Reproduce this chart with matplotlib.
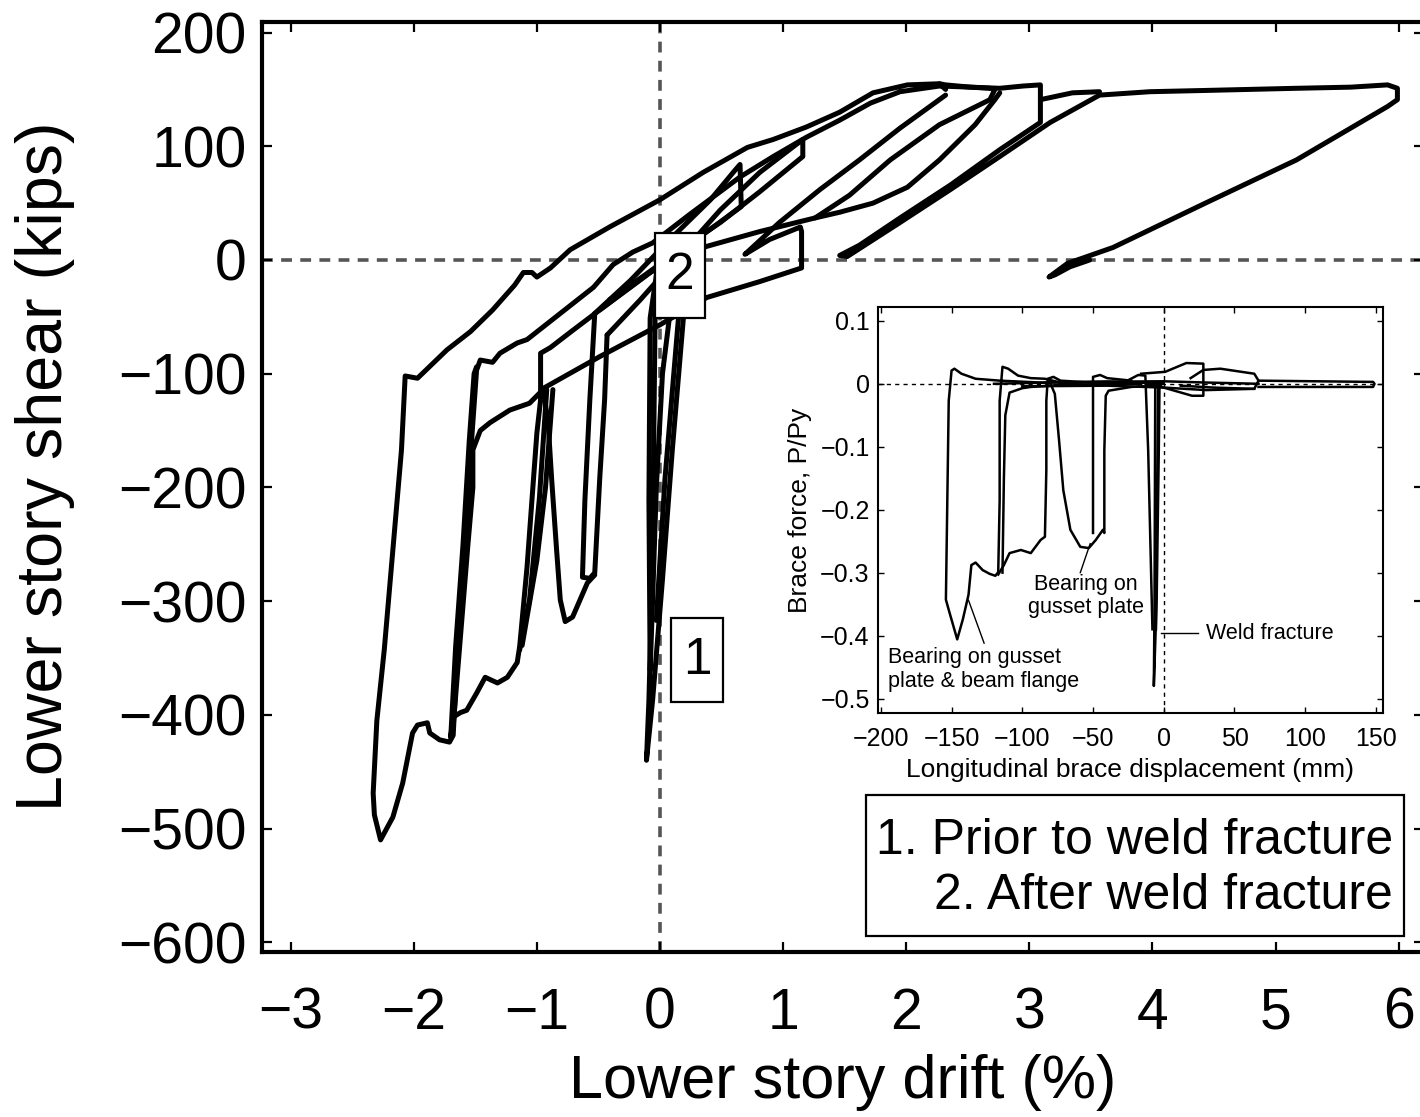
import numpy as np
import matplotlib
matplotlib.use("Agg")
import matplotlib.pyplot as plt
from matplotlib.patches import Rectangle
from matplotlib.ticker import FuncFormatter

plt.rcParams['font.family'] = ['Liberation Sans', 'DejaVu Sans']

# ---- main plot: lower story drift (%) vs lower story shear (kips), traced branches
outer = np.array([
    (2.32, 150), (2.27, 155), (2.01, 154), (1.73, 147), (1.46, 130), (1.19, 117),
    (0.92, 106), (0.71, 99), (0.35, 77), (0.0, 53), (-0.41, 29), (-0.73, 9),
    (-0.89, -7), (-1.00, -15), (-1.04, -11), (-1.11, -11), (-1.18, -22), (-1.36, -44),
    (-1.54, -63), (-1.73, -79), (-1.97, -104), (-2.07, -102), (-2.10, -167),
    (-2.17, -255), (-2.24, -343), (-2.30, -405), (-2.33, -469), (-2.32, -488),
    (-2.27, -510), (-2.17, -490), (-2.09, -460), (-2.01, -416), (-1.97, -409),
    (-1.89, -407), (-1.87, -416), (-1.79, -422), (-1.71, -424), (-1.68, -418),
    (-1.64, -334), (-1.58, -246), (-1.53, -158), (-1.49, -97), (-1.46, -88),
    (-1.36, -90), (-1.30, -82), (-1.16, -73), (-1.08, -70), (-0.81, -47),
    (-0.54, -24), (-0.38, -4), (-0.22, 7), (-0.06, 15), (0.24, 40), (0.65, 73),
    (0.92, 91), (1.19, 108), (1.46, 123), (1.71, 138), (1.95, 148), (2.27, 153),
    (2.52, 152), (2.68, 151), (2.72, 150), (2.68, 141), (2.27, 119), (1.87, 88),
    (1.54, 57), (1.26, 37),
])

step = np.array([
    (-0.97, -123), (-1.00, -152), (-1.03, -196), (-1.08, -270), (-1.14, -340),
    (-1.16, -354), (-1.24, -367), (-1.32, -372), (-1.42, -367), (-1.49, -381),
    (-1.57, -396), (-1.62, -398), (-1.68, -402), (-1.70, -420), (-1.66, -340),
    (-1.60, -250), (-1.55, -160), (-1.51, -100), (-1.49, -94),
])

knee_dip = np.array([
    (-1.68, -410), (-1.62, -330), (-1.56, -250), (-1.52, -200), (-1.52, -167),
    (-1.46, -150), (-1.38, -143), (-1.22, -132), (-1.06, -126), (-0.95, -114),
    (-0.91, -141), (-0.88, -193), (-0.84, -255), (-0.81, -299), (-0.77, -318),
    (-0.71, -314), (-0.65, -299), (-0.59, -284), (-0.53, -277),
])

vert05 = np.array([
    (-0.53, -47), (-0.57, -123), (-0.61, -211), (-0.63, -279), (-0.57, -280),
    (-0.53, -275), (-0.49, -193), (-0.45, -123), (-0.43, -66),
])

cycle_p1 = np.array([
    (-0.53, -47), (-0.24, -18), (0.08, 18), (0.41, 53), (0.61, 79), (0.65, 84),
    (0.66, 47), (0.37, 24), (0.08, 2), (-0.24, -24), (-0.49, -44),
])

cycle_p2 = np.array([
    (-0.43, -66), (-0.16, -35), (0.16, 4), (0.49, 44), (0.81, 77), (1.16, 106),
    (1.16, 91), (0.81, 60), (0.49, 33), (0.16, 9), (-0.12, -13), (-0.41, -35),
])

drop09a = np.array([(-0.92, -114), (-0.98, -210), (-1.06, -299), (-1.14, -343)])
drop09b = np.array([(-0.87, -114), (-0.93, -200), (-1.00, -264), (-1.12, -339)])

unload_p3 = np.array([
    (2.32, 145), (1.95, 116), (1.62, 88), (1.30, 62), (0.97, 33), (0.73, 9),
    (0.69, 5), (0.89, 18), (1.14, 29), (1.15, 25), (1.15, -7), (0.81, -19),
    (0.38, -33), (0.0, -57), (-0.49, -85), (-0.95, -113),
])

reload_p4 = np.array([
    (-0.97, -123), (-0.97, -82), (-0.89, -77), (-0.71, -62), (-0.49, -44),
    (-0.27, -26), (-0.08, -11), (0.16, 3), (0.38, 12), (0.81, 25), (1.26, 37),
    (1.46, 42), (1.73, 50), (2.01, 64), (2.27, 88), (2.56, 119), (2.72, 141),
    (2.76, 147),
])

large_cycles = np.array([
    (2.27, 155), (2.32, 154), (2.52, 152), (2.76, 151), (2.95, 153), (3.09, 154),
    (3.09, 121), (2.76, 97), (2.36, 66), (1.95, 37), (1.62, 13), (1.46, 4),
    (1.52, 3), (1.95, 33), (2.36, 62), (2.76, 91), (3.17, 121), (3.57, 145),
    (3.98, 148), (4.39, 149), (5.17, 151), (5.61, 152), (5.91, 154), (5.99, 151),
    (5.99, 141), (5.91, 135), (5.17, 88), (4.43, 50), (3.68, 11), (3.31, -3),
    (3.16, -15), (3.21, -13), (3.33, -6), (3.49, 0),
])
arch_p6 = np.array([(3.09, 141), (3.35, 147), (3.57, 148)])

prior_a = np.array([
    (0.32, 18), (0.19, -51), (0.10, -167), (0.02, -281), (-0.06, -387),
    (-0.11, -440), (-0.09, -387), (-0.06, -264), (-0.05, -150), (-0.04, -51), (0.0, 9),
])
prior_b = np.array([
    (0.0, 9), (-0.08, -51), (-0.09, -211), (-0.08, -361), (-0.06, -299),
    (-0.03, -200), (0.02, -100), (0.10, -30), (0.25, 20),
])
prior_c = np.array([(0.30, 10), (0.15, -51), (0.04, -193), (-0.03, -317)])

main_curves = [outer, step, knee_dip, vert05, cycle_p1, cycle_p2, drop09a, drop09b,
               unload_p3, reload_p4, large_cycles, arch_p6, prior_a, prior_b, prior_c]

main_xticks = [-3, -2, -1, 0, 1, 2, 3, 4, 5, 6]
main_yticks = [200, 100, 0, -100, -200, -300, -400, -500, -600]

# ---- inset: longitudinal brace displacement (mm) vs brace force P/Py
brace_a = np.array([
    (0, 0.002), (-40, 0.003), (-87, 0.002), (-116, 0.005), (-133, 0.008),
    (-143, 0.016), (-148, 0.024), (-150, 0.021), (-152, -0.027), (-153, -0.185),
    (-154, -0.343), (-151, -0.367), (-146, -0.406), (-142, -0.374), (-138, -0.335),
    (-136, -0.288), (-133, -0.284), (-128, -0.296), (-123, -0.302), (-119, -0.305),
    (-117, -0.299), (-116, -0.185), (-116, -0.027), (-114, 0.027), (-110, 0.024),
    (-103, 0.013), (-94, 0.009), (-84, 0.008), (-73, 0.002), (-40, 0.003), (0, 0.002),
])
brace_step = np.array([
    (-117, -0.303), (-113, -0.288), (-109, -0.269), (-101, -0.264), (-94, -0.269),
    (-87, -0.248), (-84, -0.243), (-83, -0.137), (-83, -0.027), (-82, 0.008),
    (-78, 0.011), (-73, 0.005), (-52, 0.002), (-23, 0.002),
])
brace_knee = np.array([
    (-114, -0.300), (-113, -0.15), (-112, -0.05), (-109, -0.014), (-100, -0.007),
    (-94, -0.005), (-73, -0.002), (-16, 0.0),
])
brace_dip = np.array([
    (-80, 0.0), (-77, -0.016), (-74, -0.09), (-71, -0.169), (-66, -0.232),
    (-59, -0.259), (-53, -0.261), (-48, -0.248), (-43, -0.232), (-42, -0.237),
    (-42, -0.106), (-41, -0.019), (-39, -0.011), (-23, -0.005), (-2, -0.002),
])
brace_50 = np.array([(-50, -0.237), (-50, -0.106), (-50, 0.011), (-45, 0.014),
                     (-40, 0.009), (-23, 0.005)])
brace_10 = np.array([(-30, 0.0), (-18, 0.014), (-13, 0.013), (-11, -0.106), (-8, -0.390)])
brace_weld = np.array([(-6, -0.002), (-6.5, -0.343), (-7, -0.480), (-5, -0.343),
                       (-3.5, -0.106), (-3, -0.002)])
brace_weld2 = np.array([(-4, 0.0), (-5.5, -0.39)])
brace_lens1 = np.array([(-16, 0.016), (1, 0.019), (16, 0.033), (28, 0.032), (28, -0.019),
                        (20, -0.019), (3, -0.008), (-13, 0.002)])
brace_lens2 = np.array([(19, 0.009), (28, 0.022), (40, 0.024), (64, 0.016), (67, 0.005),
                        (64, -0.008), (35, -0.006), (12, -0.003)])
brace_tail = np.array([(67, 0.005), (148, 0.003), (149, 0.0), (148, -0.005), (67, -0.005)])
brace_flat = np.array([(-120, 0.0), (-60, 0.003), (0, 0.004), (30, 0.002), (67, 0.0)])
brace_flat2 = np.array([(-100, -0.004), (-40, -0.003), (0, -0.006), (30, -0.01), (64, -0.008)])

inset_curves = [brace_a, brace_step, brace_knee, brace_dip, brace_50, brace_10, brace_weld,
                brace_weld2, brace_lens1, brace_lens2, brace_tail, brace_flat, brace_flat2]

inset_xticks = [-200, -150, -100, -50, 0, 50, 100, 150]
inset_yticks = [0.1, 0, -0.1, -0.2, -0.3, -0.4, -0.5]


def fmt(v, pos=None):
    s = f"{v:g}"
    return "0" if s in ("0", "-0") else s.replace("-", "\u2212")


fig = plt.figure(figsize=(14.2, 11.17), dpi=100)
ax = fig.add_axes([262 / 1420, 165 / 1117, 1162 / 1420, 930 / 1117])

ax.axhline(0, color='#555555', lw=2.6, dashes=(3, 2.3), zorder=1)
ax.axvline(0, color='#555555', lw=2.6, dashes=(3, 2.3), zorder=1)
for c in main_curves:
    ax.plot(c[:, 0], c[:, 1], color='black', lw=3.6, solid_joinstyle='round',
            solid_capstyle='round', zorder=2)

ax.set_xlim(-3.233, 6.206)
ax.set_ylim(-608.6, 209.3)
ax.set_xticks(main_xticks)
ax.set_yticks(main_yticks)
ax.xaxis.set_major_formatter(FuncFormatter(fmt))
ax.yaxis.set_major_formatter(FuncFormatter(fmt))
ax.tick_params(direction='in', top=True, right=True, length=7, width=1.6, labelsize=41)
ax.tick_params(axis='x', pad=25)
ax.tick_params(axis='y', pad=11)
for sp in ax.spines.values():
    sp.set_linewidth(3)
ax.set_xlabel('Lower story drift (%)', fontsize=44)
ax.set_ylabel('Lower story shear (kips)', fontsize=46.5)
ax.xaxis.set_label_coords(0.5, -0.11)
ax.yaxis.set_label_coords(-0.161, 0.522)

# numbered markers: white boxes over the curves
for x0, y0, w, h, lab in [(-0.04, -51, 0.406, 75, '2'), (0.089, -389, 0.423, 74, '1')]:
    ax.add_patch(Rectangle((x0, y0), w, h, fc='white', ec='black', lw=1.6, zorder=5))
    ax.text(x0 + w / 2, y0 + h / 2, lab, fontsize=37, ha='center', va='center', zorder=6)

# legend-like note box
fig.patches.append(Rectangle((866 / 1420, 181 / 1117), 538 / 1420, 141 / 1117,
                             transform=fig.transFigure, fc='white', ec='black',
                             lw=1.6, zorder=3))
fig.text(1393 / 1420, (1117 - 841) / 1117, '1. Prior to weld fracture', fontsize=36,
         ha='right', va='center', zorder=4)
fig.text(1393 / 1420, (1117 - 896) / 1117, '2. After weld fracture', fontsize=36,
         ha='right', va='center', zorder=4)

# inset
ins = fig.add_axes([878 / 1420, (1117 - 713) / 1117, 505 / 1420, 406 / 1117])
ins.axhline(0, color='black', lw=1, dashes=(3, 3), zorder=1)
ins.axvline(0, color='black', lw=1, dashes=(3, 3), zorder=1)
for c in inset_curves:
    ins.plot(c[:, 0], c[:, 1], color='black', lw=1.8, zorder=2)
ins.set_xlim(-202, 155)
ins.set_ylim(-0.523, 0.122)
ins.set_xticks(inset_xticks)
ins.set_yticks(inset_yticks)
ins.xaxis.set_major_formatter(FuncFormatter(fmt))
ins.yaxis.set_major_formatter(FuncFormatter(fmt))
ins.tick_params(direction='in', top=True, right=True, length=4, width=1, labelsize=18)
ins.tick_params(axis='x', pad=10)
ins.tick_params(axis='y', pad=6)
for sp in ins.spines.values():
    sp.set_linewidth(1.5)
ins.set_xlabel('Longitudinal brace displacement (mm)', fontsize=19, labelpad=5)
ins.set_ylabel('Brace force, P/Py', fontsize=19, labelpad=6)

ins.text(-195, -0.454, 'Bearing on gusset\nplate & beam flange', fontsize=15.5,
         ha='left', va='center', linespacing=1.15)
ins.plot([-127, -138], [-0.412, -0.344], color='black', lw=1)
ins.text(-55, -0.337, 'Bearing on\ngusset plate', fontsize=15.5, ha='center',
         va='center', linespacing=1.15)
ins.plot([-59, -52], [-0.300, -0.254], color='black', lw=1)
ins.text(30, -0.396, 'Weld fracture', fontsize=15.5, ha='left', va='center')
ins.plot([-2, 24], [-0.396, -0.396], color='black', lw=1)

fig.savefig('out.png', dpi=100)
